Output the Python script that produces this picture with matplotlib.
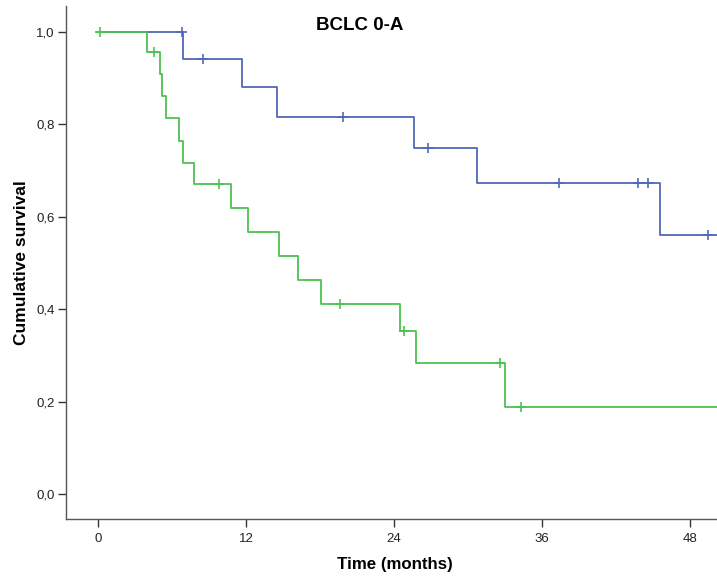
import numpy as np
import matplotlib
matplotlib.use('Agg')
import matplotlib.pyplot as plt
from matplotlib import font_manager

# Kaplan-Meier data (months, cumulative survival)
blue_times = [6.9, 11.7, 14.5, 25.6, 30.7, 45.6]
blue_surv = [0.941, 0.880, 0.817, 0.749, 0.673, 0.561]
blue_censored = [6.8, 8.5, 19.9, 26.8, 37.4, 43.8, 44.6, 49.5]

green_times = [4.0, 5.0, 5.2, 5.5, 6.6, 6.9, 7.8, 10.8, 12.2, 14.7, 16.2, 18.1, 24.5, 25.8, 33.0]
green_surv = [0.957, 0.909, 0.861, 0.813, 0.765, 0.717, 0.670, 0.618, 0.566, 0.515, 0.464, 0.412, 0.353, 0.283, 0.189]
green_censored = [0.2, 4.5, 9.8, 19.6, 24.8, 32.6, 34.3]

follow_up_end = 52
x_ticks = [0, 12, 24, 36, 48]
y_ticks = [0.0, 0.2, 0.4, 0.6, 0.8, 1.0]
y_tick_labels = ['0,0', '0,2', '0,4', '0,6', '0,8', '1,0']

blue_color = '#5068b8'
green_color = '#4cc250'

installed = {f.name for f in font_manager.fontManager.ttflist}
narrow = 'Liberation Sans Narrow' if 'Liberation Sans Narrow' in installed else 'Liberation Sans'
plt.rcParams['font.family'] = ['Liberation Sans', 'DejaVu Sans']


def surv_at(times, surv, t):
    idx = np.searchsorted(times, t, side='right')
    return 1.0 if idx == 0 else surv[idx - 1]


def draw_km(ax, times, surv, censored, color):
    xs = [0] + list(times) + [follow_up_end]
    ys = [1.0] + list(surv) + [surv[-1]]
    ax.step(xs, ys, where='post', color=color, linewidth=1.3)
    cy = [surv_at(times, surv, t) for t in censored]
    ax.plot(censored, cy, linestyle='none', marker='+', markersize=6.5,
            markeredgewidth=1.2, color=color)


fig = plt.figure(figsize=(7.17, 5.77), dpi=100)
ax = fig.add_axes([0.092, 0.1005, 0.908, 0.889])

draw_km(ax, blue_times, blue_surv, blue_censored, blue_color)
draw_km(ax, green_times, green_surv, green_censored, green_color)

ax.set_xlim(-2.6, 50.2)
ax.set_ylim(-0.054, 1.056)

ax.spines['top'].set_visible(False)
ax.spines['right'].set_visible(False)
for s in ['left', 'bottom']:
    ax.spines[s].set_color('#555555')
    ax.spines[s].set_linewidth(1.0)

ax.set_xticks(x_ticks)
ax.set_xticklabels([str(t) for t in x_ticks], fontfamily=narrow, fontsize=9.5)
ax.set_yticks(y_ticks)
ax.set_yticklabels(y_tick_labels, fontfamily=narrow, fontsize=9.5)
ax.tick_params(axis='both', direction='out', length=6, width=1.0, color='#333333', labelcolor='#222222')
ax.tick_params(axis='x', pad=4)
ax.tick_params(axis='y', pad=2)

ax.set_xlabel('Time (months)', fontsize=12.2, fontweight='bold', fontfamily=narrow, labelpad=8)
ax.set_ylabel('Cumulative survival', fontsize=12.5, fontweight='bold', labelpad=12)
fig.text(360 / 717, 1 - 25 / 577, 'BCLC 0-A', ha='center', va='center',
         fontsize=13.5, fontweight='bold')
ax.xaxis.set_label_coords((395 - 66) / 651, -0.075)
ax.yaxis.set_label_coords(-0.057, 0.5)

fig.savefig('out.png', dpi=100)
